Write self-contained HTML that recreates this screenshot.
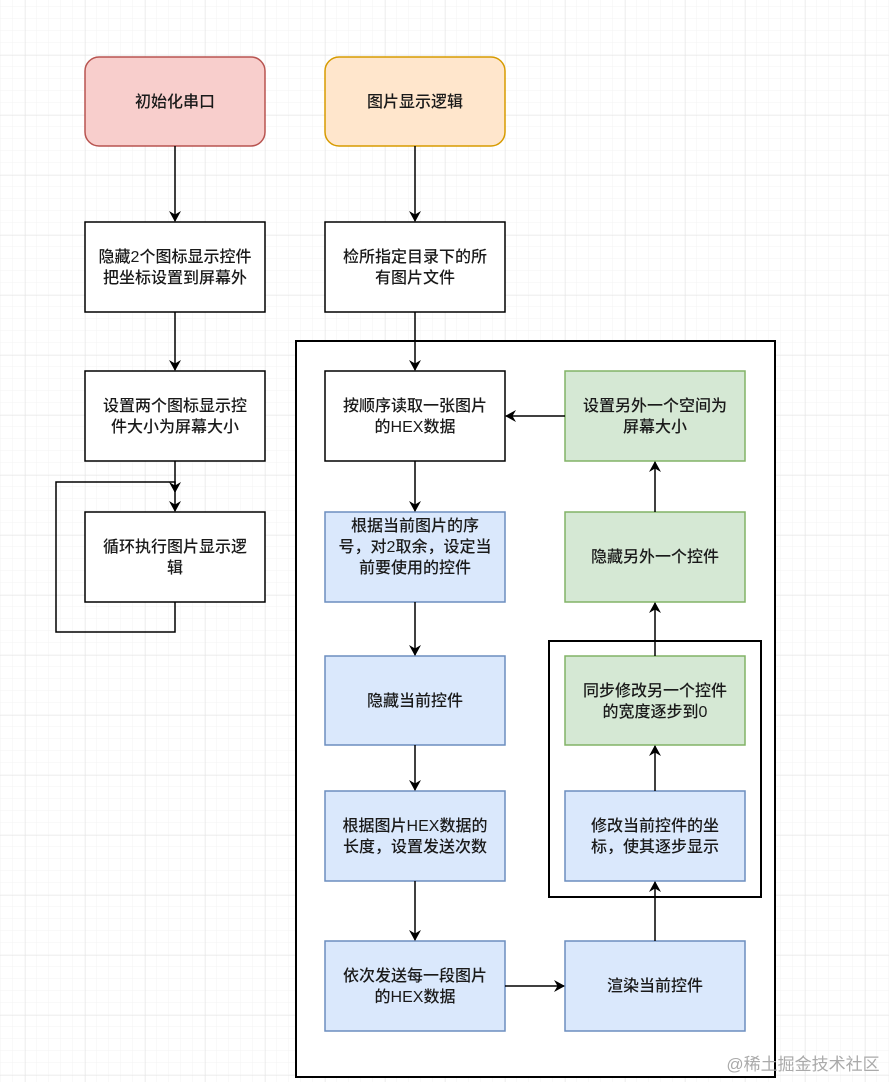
<!DOCTYPE html>
<html><head><meta charset="utf-8"><style>
html,body{margin:0;padding:0;background:#fff}
svg text{font-family:"Liberation Sans","Noto Sans CJK SC",sans-serif;font-size:16px;fill:#1a1a1a;text-anchor:middle;font-weight:500}
</style></head><body>
<svg width="889" height="1082" viewBox="0 0 889 1082" xmlns="http://www.w3.org/2000/svg">
<defs>
<pattern id="mi" width="12" height="12" patternUnits="userSpaceOnUse" x="1" y="7"><path d="M12 0V12M0 12H12" stroke="#f3f3f3" stroke-width="1" fill="none"/></pattern>
<pattern id="ma" width="60" height="60" patternUnits="userSpaceOnUse" x="25" y="55"><path d="M0 0V60M0 0H60" stroke="#e4e4e4" stroke-width="1" fill="none"/></pattern>
<marker id="a" markerWidth="12" markerHeight="12" refX="10" refY="6" orient="auto" markerUnits="userSpaceOnUse"><path d="M0 0L11 6L0 12L3.5 6Z" fill="#000"/></marker>
</defs>
<rect width="889" height="1082" fill="url(#mi)"/>
<rect width="889" height="1082" fill="url(#ma)"/>
<g stroke="#000" stroke-width="1.5" fill="#fff">
<rect x="296" y="341" width="479" height="736" stroke-width="2"/>
<rect x="549" y="641" width="212" height="256" stroke-width="2"/>
</g>
<rect x="85" y="57" width="180" height="89" rx="14" fill="#f8cecc" stroke="#b85450" stroke-width="1.5"/>
<rect x="325" y="57" width="180" height="89" rx="14" fill="#ffe6cc" stroke="#d79b00" stroke-width="1.5"/>
<g fill="#fff" stroke="#000" stroke-width="1.5">
<rect x="85" y="222" width="180" height="90"/>
<rect x="325" y="222" width="180" height="90"/>
<rect x="85" y="371" width="180" height="90"/>
<rect x="85" y="512" width="180" height="90"/>
<rect x="325" y="371" width="180" height="90"/>
</g>
<g fill="#d5e8d4" stroke="#82b366" stroke-width="1.5">
<rect x="565" y="371" width="180" height="90"/>
<rect x="565" y="512" width="180" height="90"/>
<rect x="565" y="656" width="180" height="89"/>
</g>
<g fill="#dae8fc" stroke="#6c8ebf" stroke-width="1.5">
<rect x="325" y="512" width="180" height="90"/>
<rect x="325" y="656" width="180" height="89"/>
<rect x="325" y="791" width="180" height="90"/>
<rect x="325" y="941" width="180" height="90"/>
<rect x="565" y="941" width="180" height="90"/>
<rect x="565" y="791" width="180" height="90"/>
</g>
<g stroke="#000" stroke-width="1.5" fill="none" marker-end="url(#a)">
<path d="M175 146V221"/>
<path d="M415 146V221"/>
<path d="M175 312V370"/>
<path d="M175 461V511"/>
<path d="M175 602V632H56V482H175V492"/>
<path d="M415 312V370"/>
<path d="M415 461V511"/>
<path d="M415 602V655"/>
<path d="M415 745V790"/>
<path d="M415 881V940"/>
<path d="M505 986H564"/>
<path d="M655 941V882"/>
<path d="M655 791V746"/>
<path d="M655 656V603"/>
<path d="M655 512V462"/>
<path d="M565 416H506"/>
</g>
<text x="175" y="107">初始化串口</text>
<text x="415" y="107">图片显示逻辑</text>
<text x="175" y="262">隐藏2个图标显示控件</text>
<text x="175" y="283">把坐标设置到屏幕外</text>
<text x="415" y="262">检所指定目录下的所</text>
<text x="415" y="283">有图片文件</text>
<text x="175" y="411">设置两个图标显示控</text>
<text x="175" y="432">件大小为屏幕大小</text>
<text x="175" y="552">循环执行图片显示逻</text>
<text x="175" y="573">辑</text>
<text x="415" y="411">按顺序读取一张图片</text>
<text x="415" y="432">的HEX数据</text>
<text x="655" y="411">设置另外一个空间为</text>
<text x="655" y="432">屏幕大小</text>
<text x="415" y="531">根据当前图片的序</text>
<text x="415" y="552">号，对2取余，设定当</text>
<text x="415" y="573">前要使用的控件</text>
<text x="655" y="562">隐藏另外一个控件</text>
<text x="415" y="706">隐藏当前控件</text>
<text x="655" y="696">同步修改另一个控件</text>
<text x="655" y="717">的宽度逐步到0</text>
<text x="415" y="831">根据图片HEX数据的</text>
<text x="415" y="852">长度，设置发送次数</text>
<text x="655" y="831">修改当前控件的坐</text>
<text x="655" y="852">标，使其逐步显示</text>
<text x="415" y="981">依次发送每一段图片</text>
<text x="415" y="1002">的HEX数据</text>
<text x="655" y="991">渲染当前控件</text>
<text x="803" y="1070" style="font-size:17px;fill:#aaa;font-weight:400">@稀土掘金技术社区</text>
</svg>
</body></html>
